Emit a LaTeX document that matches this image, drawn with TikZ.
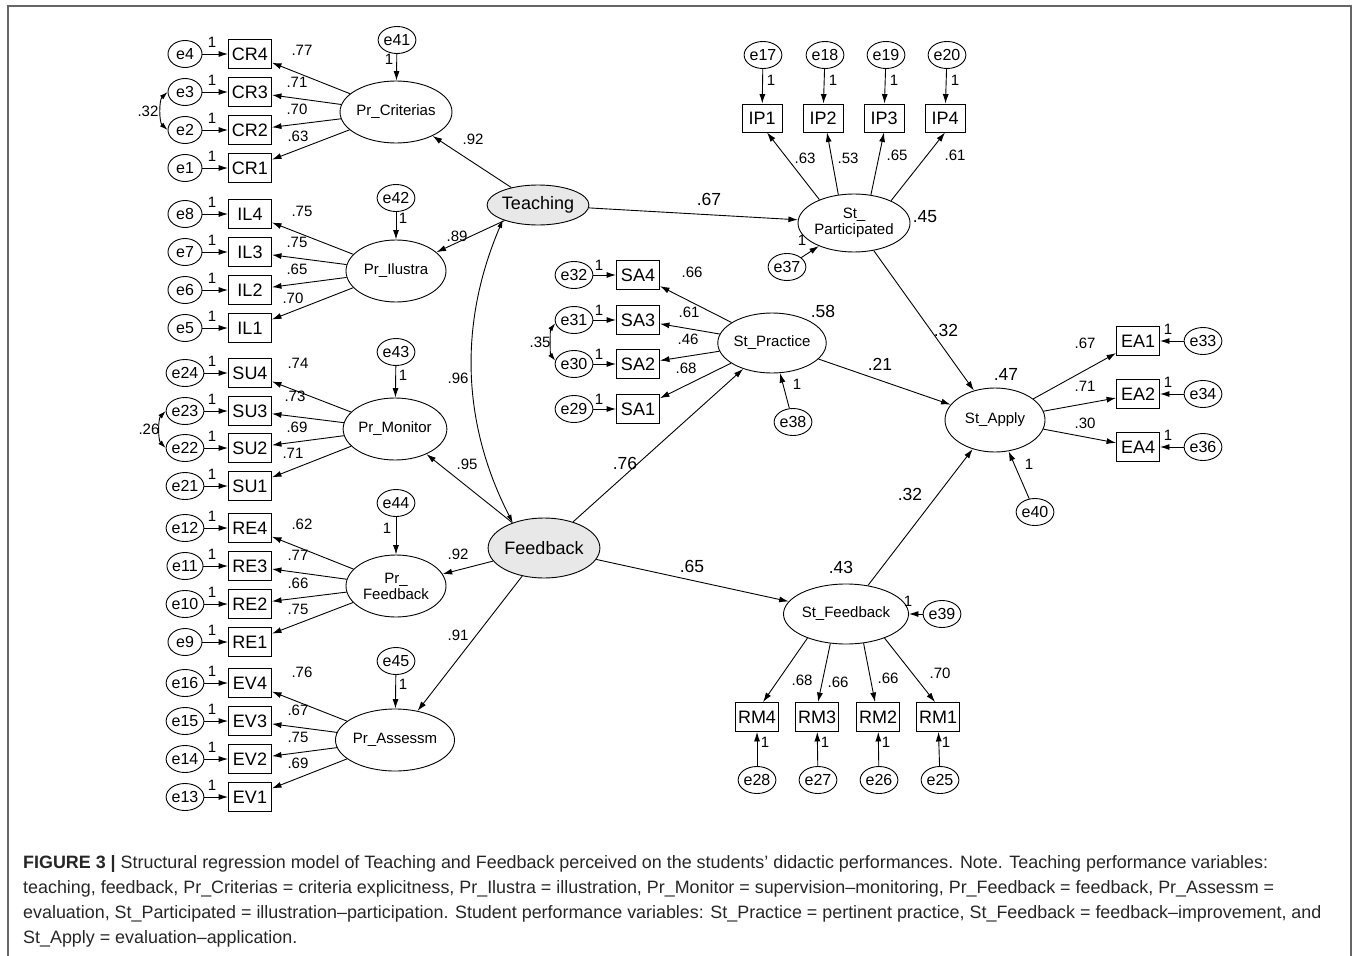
\documentclass[tikz,border=0pt]{standalone}
\usepackage{fontspec}
\setmainfont{Liberation Sans}
\usetikzlibrary{shapes.geometric,arrows.meta}
\begin{document}
\begin{tikzpicture}[x=1pt,y=-1pt,
 lat/.style={ellipse, draw, line width=0.9pt, minimum width=100pt, minimum height=62pt, inner sep=0pt, align=center, font=\fontsize{15}{16}\selectfont},
 latg/.style={lat, fill=gray!18, font=\fontsize{18}{20}\selectfont},
 obs/.style={rectangle, draw, line width=0.9pt, minimum width=43pt, minimum height=29pt, inner sep=0pt, font=\fontsize{18}{20}\selectfont},
 err/.style={ellipse, draw, line width=0.9pt, minimum width=34pt, minimum height=27pt, inner sep=0pt, font=\fontsize{16}{18}\selectfont},
 arr/.style={-{Latex[length=9.5pt,width=6pt]}, line width=0.9pt},
 cov/.style={{Latex[length=8pt,width=5pt]}-{Latex[length=8pt,width=5pt]}, line width=0.9pt},
 lab/.style={font=\fontsize{15}{17}\selectfont, inner sep=0pt},
 blab/.style={font=\fontsize{17.5}{19}\selectfont, inner sep=0pt},
 capt/.style={anchor=base west, inner sep=0pt, text=black!85, font=\fontsize{17.9}{20}\selectfont}
]
\useasboundingbox (0,0) rectangle (1356,955);
\draw[line width=1.2pt, black!60] (8,958) -- (8,6) -- (1351,6) -- (1351,958);

% latent variables
\node[lat] (PrC) at (396,112) {Pr\_Criterias};
\node[lat] (PrI) at (396,271) {Pr\_Ilustra};
\node[lat] (PrM) at (395,429) {Pr\_Monitor};
\node[lat] (PrF) at (396,586) {Pr\_\\Feedback};
\node[lat] (PrA) at (395,740) {Pr\_Assessm};
\node[latg, minimum height=40pt] (Teach) at (538,205) {Teaching};
\node[latg, minimum height=60pt] (Feed) at (544,548) {Feedback};
\node[lat, minimum width=98pt, minimum height=58pt] (SP) at (854,223) {St\_\\Participated};
\node[lat, minimum height=60pt] (SPr) at (772,343) {St\_Practice};
\node[lat, minimum width=98pt, minimum height=60pt] (SF) at (846,614) {St\_Feedback};
\node[lat, minimum height=64pt] (SA) at (995,420) {St\_Apply};

% disturbance terms
\node[err] (e41) at (397,40) {e41};
\node[err] (e42) at (396,198) {e42};
\node[err] (e43) at (396,352) {e43};
\node[err] (e44) at (396,503) {e44};
\node[err] (e45) at (396,661) {e45};
\draw[arr] (e41) -- (PrC); \node[lab] at (389,59) {1};
\draw[arr] (e42) -- (PrI); \node[lab] at (403,218) {1};
\draw[arr] (e43) -- (PrM); \node[lab] at (403,375) {1};
\draw[arr] (e44) -- (PrF); \node[lab] at (387,528) {1};
\draw[arr] (e45) -- (PrA); \node[lab] at (403,684) {1};

% left indicators
\foreach \lt/\b/\e/\y/\v/\lx/\ly in {
 PrC/CR4/e4/54/.77/302/50, PrC/CR3/e3/92/.71/297/82, PrC/CR2/e2/130/.70/297/109, PrC/CR1/e1/168/.63/298/136,
 PrI/IL4/e8/214/.75/302/211, PrI/IL3/e7/252/.75/297/242, PrI/IL2/e6/290/.65/297/269, PrI/IL1/e5/328/.70/293/298,
 PrM/SU4/e24/373/.74/298/363, PrM/SU3/e23/411/.73/295/396, PrM/SU2/e22/448/.69/297/427, PrM/SU1/e21/486/.71/293/453,
 PrF/RE4/e12/528/.62/302/524, PrF/RE3/e11/566/.77/298/555, PrF/RE2/e10/604/.66/298/583, PrF/RE1/e9/642/.75/298/609,
 PrA/EV4/e16/683/.76/302/672, PrA/EV3/e15/721/.67/298/710, PrA/EV2/e14/759/.75/298/737, PrA/EV1/e13/797/.69/298/763}{
 \node[obs] (\b) at (250,\y) {\b};
 \node[err] (\e) at (185,\y) {\e};
 \draw[arr] (\e) -- (\b);
 \node[lab] at (212,\y-12) {1};
 \draw[arr] (\lt) -- (\b);
 \node[lab] at (\lx,\ly) {\v};
}
\draw[cov] (e3.west) .. controls (159,100) and (159,122) .. (e2.west); \node[lab] at (148,111) {.32};
\draw[cov] (e23.west) .. controls (158,419) and (158,440) .. (e22.west); \node[lab] at (149,429) {.26};

% structural paths around Teaching / Feedback
\draw[arr] (Teach) -- (PrC); \node[lab] at (473,139) {.92};
\draw[arr] (Teach) -- (PrI); \node[lab] at (457,236) {.89};
\draw[cov] (Teach.203) .. controls (460,320) and (460,420) .. (Feed.141); \node[lab] at (458,378) {.96};
\draw[arr] (Feed) -- (PrM); \node[lab] at (467,464) {.95};
\draw[arr] (Feed) -- (PrF); \node[lab] at (458,554) {.92};
\draw[arr] (Feed) -- (PrA); \node[lab] at (458,635) {.91};

\draw[arr] (Teach) -- (SP); \node[blab] at (709,199) {.67};
\draw[arr] (Feed) -- (SPr); \node[blab] at (625,463) {.76};
\draw[arr] (Feed) -- (SF); \node[blab] at (692,566) {.65};
\draw[arr] (SP) -- (SA); \node[blab] at (946,330) {.32};
\draw[arr] (SPr) -- (SA); \node[blab] at (880,364) {.21};
\draw[arr] (SF) -- (SA); \node[blab] at (910,494) {.32};
\node[blab] at (925,217) {.45};
\node[blab] at (823,311) {.58};
\node[blab] at (1006,374) {.47};
\node[blab] at (841,567) {.43};

% St_Participated indicators
\foreach \b/\e/\x/\ex/\a/\s/\v/\lx/\ly in {IP1/e17/762/763/146/5/.63/805/158, IP2/e18/823/825/119/4/.53/848/158, IP3/e19/884/886/59/0/.65/897/155, IP4/e20/945/947/31/0/.61/955/155}{
 \node[obs, minimum width=40pt, minimum height=28pt] (\b) at (\x,118) {\b};
 \node[err] (\e) at (\ex,55) {\e};
 \draw[arr] (\e) -- (\b);
 \node[lab] at (\ex+8,80) {1};
 \draw[arr] (SP.\a) -- ([xshift=\s pt]\b.south);
 \node[lab] at (\lx,\ly) {\v};
}
\node[err] (e37) at (787,267) {e37};
\draw[arr] (e37) -- (SP); \node[lab] at (802,240) {1};

% St_Practice indicators
\foreach \b/\e/\y/\v/\lx/\ly in {SA4/e32/275/.66/692/272, SA3/e31/320/.61/689/312, SA2/e30/364/.46/688/339, SA1/e29/409/.68/686/368}{
 \node[obs] (\b) at (638,\y) {\b};
 \node[err] (\e) at (574,\y) {\e};
 \draw[arr] (\e) -- (\b);
 \node[lab] at (599,\y-10) {1};
 \draw[arr] (SPr) -- (\b);
 \node[lab] at (\lx,\ly) {\v};
}
\draw[cov] (e31.190) .. controls (550,330) and (550,354) .. (e30.170); \node[lab] at (540,342) {.35};
\node[err] (e38) at (793,422) {e38};
\draw[arr] (e38) -- (SPr); \node[lab] at (797,384) {1};

% St_Feedback indicators
\foreach \b/\e/\x/\ex/\a/\s/\v/\lx/\ly in {RM4/e28/757/757/212/6/.68/802/680, RM3/e27/817/818/242/1/.66/838/682, RM2/e26/878/879/301/-3/.66/888/678, RM1/e25/938/940/328/-3/.70/940/673}{
 \node[obs] (\b) at (\x,717) {\b};
 \node[err] (\e) at (\ex,780) {\e};
 \draw[arr] (\e) -- (\b);
 \node[lab] at (\x+8,742) {1};
 \draw[arr] (SF.\a) -- ([xshift=\s pt]\b.north);
 \node[lab] at (\lx,\ly) {\v};
}
\node[err] (e39) at (942,614) {e39};
\draw[arr] (e39) -- (SF); \node[lab] at (908,601) {1};

% St_Apply indicators
\foreach \b/\e/\y/\v/\ly in {EA1/e33/341/.67/343, EA2/e34/394/.71/386, EA4/e36/447/.30/423}{
 \node[obs] (\b) at (1138,\y) {\b};
 \node[err] (\e) at (1203,\y) {\e};
 \draw[arr] (\e) -- (\b);
 \node[lab] at (1168,\y-12) {1};
 \draw[arr] (SA) -- (\b);
 \node[lab] at (1085,\ly) {\v};
}
\node[err] (e40) at (1035,512) {e40};
\draw[arr] (e40) -- (SA); \node[lab] at (1029,464) {1};

% caption
\node[capt] (c1) at (23,868) {\textbf{FIGURE 3 |} Structural regression model of Teaching and Feedback perceived on the students’ didactic performances. Note. Teaching performance variables:};
\node[capt] (c2) at (23,893) {teaching, feedback, Pr\_Criterias = criteria explicitness, Pr\_Ilustra = illustration, Pr\_Monitor = supervision–monitoring, Pr\_Feedback = feedback, Pr\_Assessm =};
\node[capt] (c3) at (23,918) {evaluation, St\_Participated = illustration–participation. Student performance variables: St\_Practice = pertinent practice, St\_Feedback = feedback–improvement, and};
\node[capt] (c4) at (23,943) {St\_Apply = evaluation–application.};
\end{tikzpicture}
\end{document}
